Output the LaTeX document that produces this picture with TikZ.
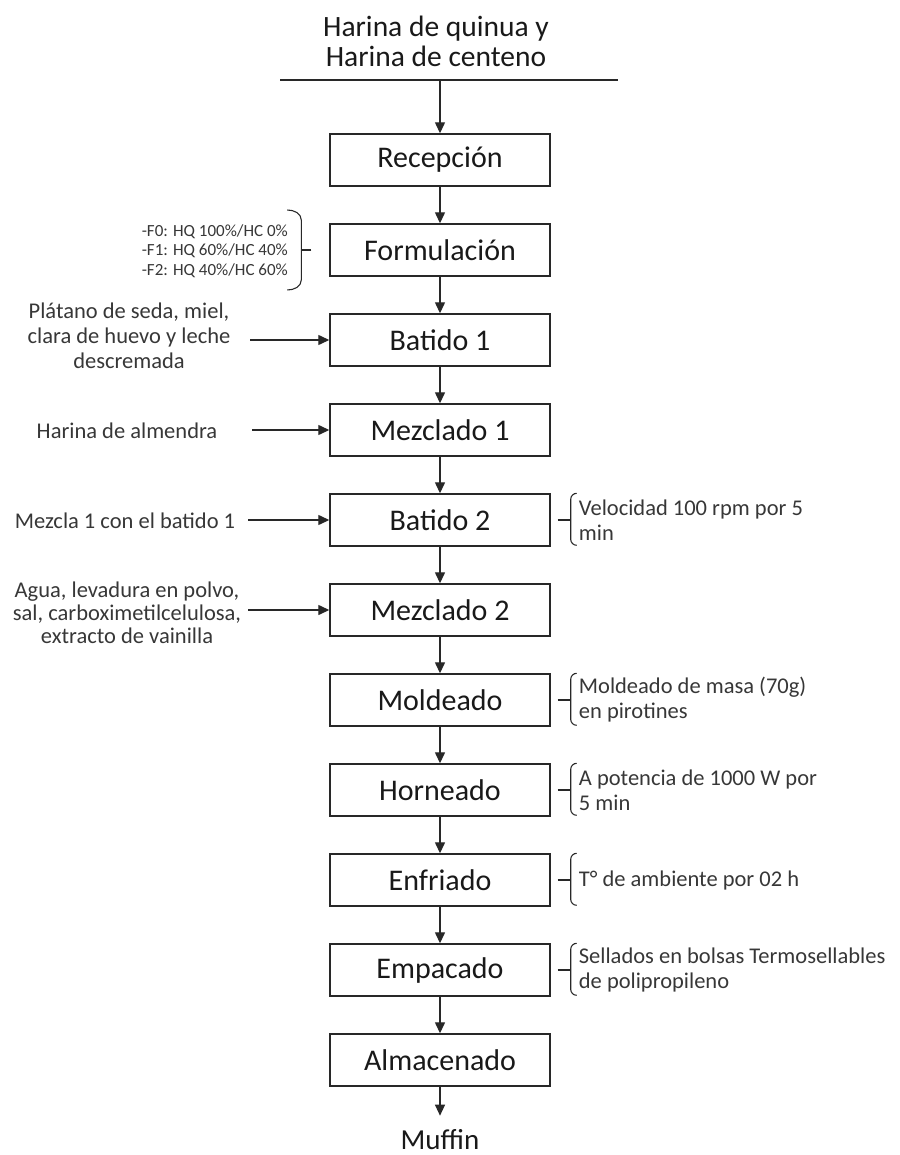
\documentclass[tikz,border=0pt]{standalone}
\usepackage{fontspec}
\setmainfont{Carlito}
\usepackage{tikz}
\usetikzlibrary{arrows.meta}
\definecolor{FlowLine}{RGB}{40,40,40}
\definecolor{FlowText}{RGB}{25,25,25}
\definecolor{NoteText}{RGB}{55,55,55}

\begin{document}
\begin{tikzpicture}[x=1pt,y=-1pt,
prc/.style={draw=FlowLine,line width=1.4pt,minimum width=220pt,minimum height=52pt,inner sep=0pt,text=FlowText,font=\fontsize{30}{32}\selectfont},
flw/.style={draw=FlowLine,line width=1.3pt,-{Triangle[length=11pt,width=10pt]}},
brc/.style={draw=FlowLine,line width=1.1pt},
inp/.style={align=center,text=NoteText,inner sep=0pt,font=\fontsize{22.5}{25}\selectfont},
nte/.style={anchor=west,align=left,text=NoteText,inner sep=0pt,font=\fontsize{22.5}{25}\selectfont}]
\useasboundingbox (0,0) rectangle (899,1155);
\node[text=FlowText,align=center,font=\fontsize{29.5}{30}\selectfont] (src) at (436,41) {Harina de quinua y\\Harina de centeno};
\coordinate (srcL) at (280,80);
\coordinate (srcR) at (618,80);
\coordinate (srcM) at (440,80);
\draw[brc] (srcL) -- (srcR);
\foreach \t [count=\i from 0] in {Recepción,Formulación,Batido 1,Mezclado 1,Batido 2,Mezclado 2,Moldeado,Horneado,Enfriado,Empacado,Almacenado} {
   \node[prc] (p\i) at (440,{160+90*\i}) {\t};
}
\node[text=FlowText,inner ysep=14pt,font=\fontsize{29}{30}\selectfont] (muffin) at (440,1140) {Muffin};
\draw[flw] (srcM) -- (p0);
\foreach \a/\b in {p0/p1,p1/p2,p2/p3,p3/p4,p4/p5,p5/p6,p6/p7,p7/p8,p8/p9,p9/p10,p10/muffin} {
   \draw[flw] (\a) -- (\b);
}
\node[inp,align=right,anchor=east,font=\fontsize{17}{19.5}\selectfont] (frm) at (288,251) {-F0: HQ 100\%/HC 0\%\\-F1: HQ 60\%/HC 40\%\\-F2: HQ 40\%/HC 60\%};
\draw[brc] (p1.west) ++(-18,0) -- ++(-10,0);
\draw[brc] (p1.west) ++(-42,-40) to[out=0,in=90] ++(14,10) -- ++(0,60) to[out=-90,in=0] ++(-14,10);
\node[inp] (inA) at (129,336) {Plátano de seda, miel,\\clara de huevo y leche\\descremada};
\node[inp] (inB) at (127,431) {Harina de almendra};
\node[inp] (inC) at (125,521) {Mezcla 1 con el batido 1};
\node[inp,font=\fontsize{22.5}{23}\selectfont] (inD) at (127,613) {Agua, levadura en polvo,\\sal, carboximetilcelulosa,\\extracto de vainilla};
\coordinate (sA) at (250,340);
\coordinate (sB) at (252,430);
\coordinate (sC) at (248,520);
\coordinate (sD) at (248,610);
\foreach \s/\b in {sA/p2,sB/p3,sC/p4,sD/p5} {
   \draw[flw] (\s) -- (\b);
}
\foreach \b/\t in {p4/{Velocidad 100 rpm por 5\\min},p6/{Moldeado de masa (70g)\\en pirotines},p7/{A potencia de 1000 W por\\5 min},p8/{T° de ambiente por 02 h},p9/{Sellados en bolsas Termosellables\\de polipropileno}} {
   \draw[brc] (\b.east) ++(7,0) -- ++(13,0);
   \draw[brc] (\b.north east) ++(26,0) to[out=180,in=90] ++(-6,6) -- ++(0,40) to[out=-90,in=180] ++(6,6);
   \node[nte] (n\b) at ([xshift=28pt]\b.east) {\t};
}
\end{tikzpicture}
\end{document}
